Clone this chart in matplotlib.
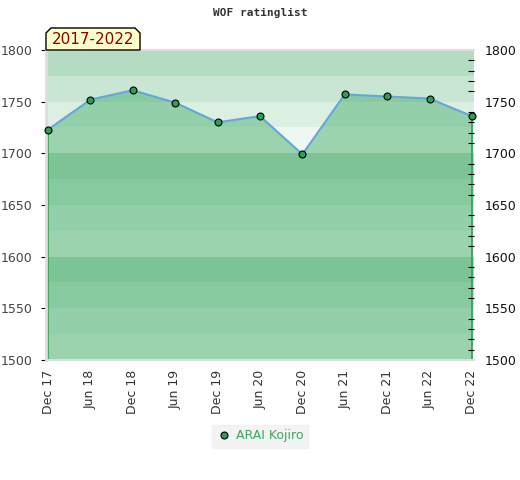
import numpy as np
import matplotlib
matplotlib.use("Agg")
import matplotlib.pyplot as plt
from matplotlib.patches import Polygon
from matplotlib.ticker import MultipleLocator

# WOF rating history, half-year steps
periods = ["Dec 17", "Jun 18", "Dec 18", "Jun 19", "Dec 19", "Jun 20",
           "Dec 20", "Jun 21", "Dec 21", "Jun 22", "Dec 22"]
ratings = [1723, 1752, 1761, 1749, 1730, 1736, 1699, 1757, 1755, 1753, 1736]
player = "ARAI Kojiro"
period_label = "2017-2022"

y_min, y_max = 1500, 1800
# band shades inside each 100 block, bottom to top
band_colors = ["#eef7f1", "#dcefe3", "#c9e6d4", "#b3dcc2"]

fig = plt.figure(figsize=(5.2, 4.8), dpi=100)
ax = fig.add_axes([46/520, 1 - 360/480, 428/520, 310/480])

for lo in range(y_min, y_max, 25):
    ax.axhspan(lo, lo + 25, color=band_colors[(lo // 25) % 4], lw=0, zorder=0)

x = np.arange(len(ratings))
ax.fill_between(x, ratings, y_min, color="#3aa860", alpha=0.45, lw=0, zorder=1)
ax.plot(x, ratings, color="#5fa8d8", lw=1.5, zorder=2)
ax.vlines([x[0], x[-1]], y_min, [ratings[0], ratings[-1]], color="#2e9e55", lw=1.2, zorder=2)
ax.plot(x, ratings, "o", ms=5, mfc="#2e9e55", mec="black", mew=0.8, zorder=3,
        label=player, clip_on=False)

ax.set_xlim(-0.05, len(ratings) - 0.95)
ax.set_ylim(y_min, y_max)
ax.set_xticks(x)
ax.set_xticklabels(periods, rotation=90, fontsize=9, color="#333333")
ax.tick_params(axis="x", length=0, pad=7)
ax.set_yticks(range(y_min, y_max + 1, 50))
ax.tick_params(axis="y", left=False, labelleft=True, right=False, labelright=False,
               labelsize=9, labelcolor="#444444", pad=6)

ax2 = ax.twinx()
ax2.set_ylim(y_min, y_max)
ax2.set_yticks(range(y_min, y_max + 1, 50))
ax2.yaxis.set_minor_locator(MultipleLocator(10))
ax2.tick_params(axis="y", which="major", length=0, labelsize=9, pad=8, labelcolor="#111111")
ax2.tick_params(axis="y", which="minor", direction="in", length=4, color="black", width=0.8)

for a in (ax, ax2):
    for s in a.spines.values():
        s.set_visible(False)
for side, w in (("left", 2), ("top", 1.5), ("bottom", 1.5)):
    ax.spines[side].set_visible(True)
    ax.spines[side].set_color("#dddddd")
    ax.spines[side].set_linewidth(w)

fig.text(0.5, 1 - 13/480, "WOF ratinglist", ha="center", va="center",
         fontsize=8, family="DejaVu Sans Mono", fontweight="bold", color="#333333")

# period tag with cut top corners
bx0, bx1, by0, by1, c = 46, 140, 28, 50, 5
pts = [(bx0, by1), (bx0, by0 + c), (bx0 + c, by0), (bx1 - c, by0), (bx1, by0 + c), (bx1, by1)]
tag = Polygon([(px / 520, 1 - py / 480) for px, py in pts], closed=True,
              transform=fig.transFigure, fc="#ffffcc", ec="black", lw=1, zorder=5)
fig.patches.append(tag)
fig.text((bx0 + bx1) / 2 / 520, 1 - 40/480, period_label, ha="center", va="center",
         fontsize=11, color="#8b0000", zorder=6)

leg = fig.legend(loc="center", bbox_to_anchor=(0.5, 1 - 436/480), frameon=True,
                 fontsize=9, handletextpad=0.3, borderpad=0.4, handlelength=1.2,
                 fancybox=False)
leg.get_frame().set_facecolor("#f0f0f0")
leg.get_frame().set_edgecolor("#f0f0f0")
for t in leg.get_texts():
    t.set_color("#3aa860")

fig.savefig("out.png", dpi=100)
